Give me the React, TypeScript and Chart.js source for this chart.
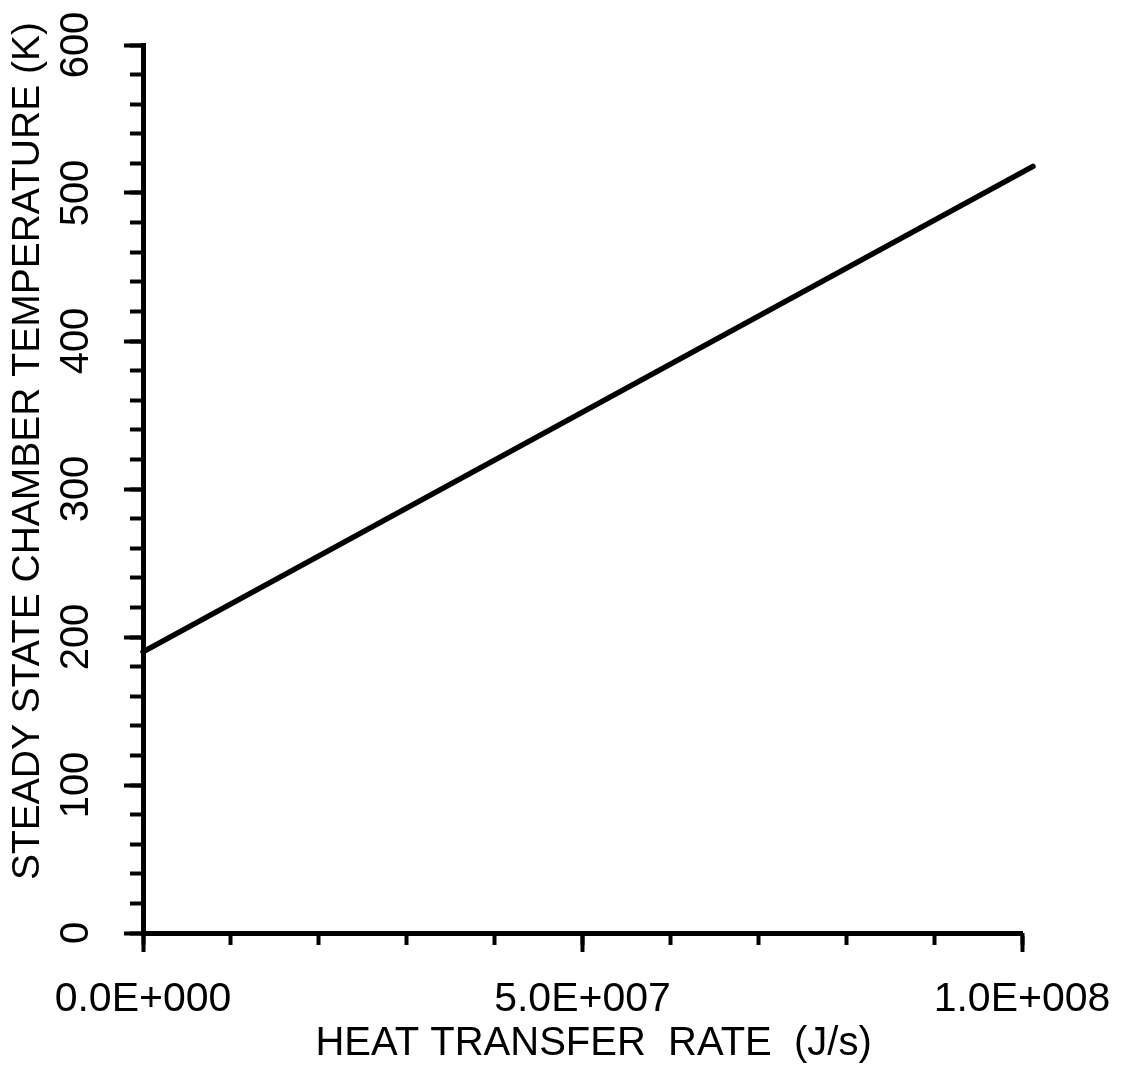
import React, { useEffect, useRef } from "react";
import { Chart, registerables } from "chart.js";

Chart.register(...registerables);

// ---- data ----
const heatRate = [0, 5.0e7, 1.0125e8];
const chamberTemp = [190, 352, 518];

const xMajorTicks = [0, 5e7, 1e8];
const xTickLabels = ["0.0E+000", "5.0E+007", "1.0E+008"];
const yTickLabels = ["0", "100", "200", "300", "400", "500", "600"];

const xTitle = "  HEAT TRANSFER  RATE  (J/s)";
const yTitle = "       STEADY STATE CHAMBER TEMPERATURE (K)";

const FONT = "'Liberation Sans', Arial, Helvetica, sans-serif";

export default function App() {
  const ref = useRef<HTMLCanvasElement | null>(null);

  useEffect(() => {
    if (!ref.current) return;
    Chart.defaults.font.family = FONT;
    Chart.defaults.color = "#000";

    const chart = new Chart(ref.current, {
      type: "line",
      data: {
        datasets: [
          {
            data: heatRate.map((x, i) => ({ x, y: chamberTemp[i] })),
            borderColor: "#000",
            borderWidth: 5.5,
            borderCapStyle: "round",
            pointRadius: 0,
            tension: 0,
            clip: false as any,
            xAxisID: "x",
            yAxisID: "y",
          },
        ],
      },
      options: {
        animation: false,
        responsive: false,
        layout: { padding: { top: 45, right: 103, left: 0, bottom: 0 } },
        plugins: { legend: { display: false }, tooltip: { enabled: false } },
        scales: {
          x: {
            type: "linear",
            position: "bottom",
            weight: 1,
            min: 0,
            max: 1e8,
            afterBuildTicks: (s: any) => {
              s.ticks = xMajorTicks.map((v) => ({ value: v }));
            },
            ticks: {
              autoSkip: false,
              maxRotation: 0,
              minRotation: 0,
              padding: 23,
              color: "#000",
              font: { size: 41, family: FONT },
              callback: (v: any) => {
                const i = xMajorTicks.indexOf(Number(v));
                return i >= 0 ? xTickLabels[i] : "";
              },
            },
            grid: {
              drawOnChartArea: false,
              drawTicks: true,
              tickLength: 19,
              tickWidth: 4,
              tickColor: "#000",
              color: "#000",
            },
            border: { display: true, color: "#000", width: 5 },
            title: {
              display: true,
              text: xTitle,
              color: "#000",
              font: { size: 40, family: FONT },
              padding: { top: 0, bottom: 9 },
            },
            afterFit: (s: any) => {
              s.height = 144;
              s.paddingLeft = 0;
              s.paddingRight = 0;
            },
          },
          xMinor: {
            type: "linear",
            position: "bottom",
            weight: 0,
            min: 0,
            max: 1e8,
            ticks: { display: false, stepSize: 1e7, autoSkip: false },
            grid: {
              drawOnChartArea: false,
              drawTicks: true,
              tickLength: 12,
              tickWidth: 4,
              tickColor: "#000",
              color: "#000",
            },
            border: { display: false },
            afterFit: (s: any) => {
              s.height = 0;
              s.paddingLeft = 0;
              s.paddingRight = 0;
            },
          },
          y: {
            type: "linear",
            position: "left",
            weight: 1,
            min: 0,
            max: 600,
            ticks: {
              stepSize: 100,
              autoSkip: false,
              minRotation: 90,
              maxRotation: 90,
              crossAlign: "center",
              padding: 14,
              color: "#000",
              font: { size: 40, family: FONT },
              callback: (v: any) => {
                const i = Math.round(Number(v) / 100);
                return yTickLabels[i] ?? "";
              },
            },
            grid: {
              drawOnChartArea: false,
              drawTicks: true,
              tickLength: 19,
              tickWidth: 4,
              tickColor: "#000",
              color: "#000",
            },
            border: { display: true, color: "#000", width: 5 },
            title: {
              display: true,
              text: yTitle,
              color: "#000",
              font: { size: 39, family: FONT },
              padding: { top: 5, bottom: 0 },
            },
            afterFit: (s: any) => {
              s.width = 143;
            },
          },
          yMinor: {
            type: "linear",
            position: "left",
            weight: 0,
            min: 0,
            max: 600,
            ticks: { display: false, stepSize: 20, autoSkip: false },
            grid: {
              drawOnChartArea: false,
              drawTicks: true,
              tickLength: 13,
              tickWidth: 4,
              tickColor: "#000",
              color: "#000",
            },
            border: { display: false },
            afterFit: (s: any) => {
              s.width = 0;
            },
          },
        },
      } as any,
    });
    return () => chart.destroy();
  }, []);

  return (
    <div
      style={{
        position: "absolute",
        left: 0,
        top: 0,
        width: 1125,
        height: 1077,
        background: "#fff",
      }}
    >
      <canvas
        ref={ref}
        width={1125}
        height={1077}
        style={{ display: "block", width: 1125, height: 1077 }}
      />
    </div>
  );
}
